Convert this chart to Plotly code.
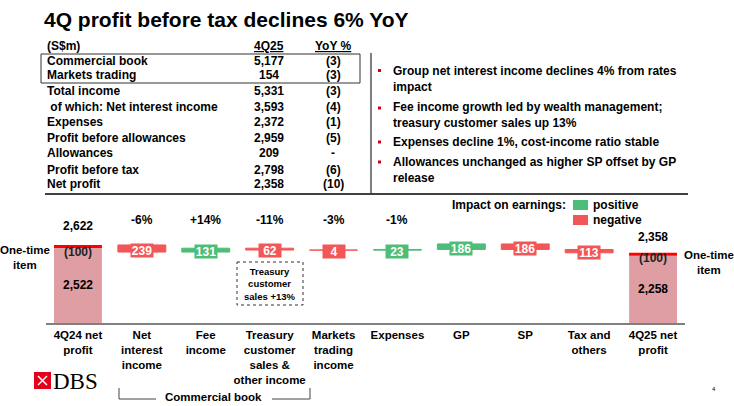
import plotly.graph_objects as go

W, H = 734, 406

# waterfall data (S$m)
categories = ["4Q24 net<br>profit", "Net<br>interest<br>income", "Fee<br>income",
              "Treasury<br>customer<br>sales &<br>other income", "Markets<br>trading<br>income",
              "Expenses", "GP", "SP", "Tax and<br>others", "4Q25 net<br>profit"]
start_profit = 2622
end_profit = 2358
one_time_item = 100
changes = [-239, 131, -62, -4, 23, 186, -186, -113]
yoy_pct = ["-6%", "+14%", "-11%", "-3%", "-1%"]

# table data
table_rows = ["Commercial book", "Markets trading", "Total income", "&nbsp;of which: Net interest income",
              "Expenses", "Profit before allowances", "Allowances", "Profit before tax", "Net profit"]
table_4q25 = ["5,177", "154", "5,331", "3,593", "2,372", "2,959", "209", "2,798", "2,358"]
table_yoy = ["(3)", "(3)", "(3)", "(4)", "(1)", "(5)", "-", "(6)", "(10)"]

bullets = [
    "Group net interest income declines 4% from rates<br>impact",
    "Fee income growth led by wealth management;<br>treasury customer sales up 13%",
    "Expenses decline 1%, cost-income ratio stable",
    "Allowances unchanged as higher SP offset by GP<br>release",
]

GREEN = "#4dbd78"
RED = "#f25757"
BAND = "#ff0000"
PINK = "#df9ea3"
FONT = "Liberation Sans"


def px(x):
    return x / W


def py(y):
    return 1 - y / H


def text_at(x, y, text, size=12, anchor="center", color="black", family=FONT, **kw):
    # paper-positioned text, x/y in pixels from top-left
    return dict(x=px(x), y=py(y), xref="paper", yref="paper", xanchor=anchor, yanchor="middle",
                text=text, showarrow=False, font=dict(size=size, family=family, color=color), **kw)


# running totals for the waterfall
levels = [start_profit]
for c in changes:
    levels.append(levels[-1] + c)
bases = [min(levels[i], levels[i + 1]) for i in range(len(changes))]
heights = [abs(c) for c in changes]
colors = [GREEN if c > 0 else RED for c in changes]

fig = go.Figure()

# start / end bars: underlying profit + one-time item on top
ends_x = [categories[0], categories[-1]]
ends_total = [start_profit, end_profit]
fig.add_trace(go.Bar(x=ends_x, y=[v - one_time_item for v in ends_total], base=[0, 0],
                     marker=dict(color=PINK, line=dict(width=0)), width=0.75))
fig.add_trace(go.Bar(x=ends_x, y=[one_time_item] * 2, base=[v - one_time_item for v in ends_total],
                     marker=dict(color=BAND, line=dict(width=0)), width=0.75))

# changes
fig.add_trace(go.Bar(x=categories[1:-1], y=heights, base=bases,
                     marker=dict(color=colors, line=dict(color=colors, width=1)), width=0.75))

ann = []
shapes = []

for i, c in enumerate(changes):
    ann.append(dict(x=categories[i + 1], y=bases[i] + heights[i] / 2, xref="x", yref="y",
                    xanchor="center", yanchor="middle",
                    text="<b>%d</b>" % abs(c), showarrow=False, bgcolor=colors[i],
                    font=dict(color="white", size=12, family=FONT), width=22, height=13,
                    yshift=-1.5, borderpad=0))

for i, p in enumerate(yoy_pct):
    ann.append(dict(x=categories[i + 1], y=py(220), xref="x", yref="paper", xanchor="center", yanchor="middle",
                    text="<b>%s</b>" % p, showarrow=False, font=dict(size=12, family=FONT, color="black")))

# start/end bar labels
for cat, total, top_shift, mid_shift in [(categories[0], start_profit, 19, -4), (categories[-1], end_profit, 16, -2)]:
    base_val = total - one_time_item
    ann.append(dict(x=cat, y=total, xref="x", yref="y", xanchor="center", yanchor="middle",
                    text="<b>{:,}</b>".format(total), showarrow=False,
                    yshift=top_shift, font=dict(size=12, family=FONT, color="black")))
    ann.append(dict(x=cat, y=base_val, xref="x", yref="y", xanchor="center", yanchor="middle",
                    text="<b>(%d)</b>" % one_time_item,
                    showarrow=False, yshift=mid_shift, font=dict(size=12, family=FONT, color="#222")))
    ann.append(dict(x=cat, y=base_val / 2, xref="x", yref="y", xanchor="center", yanchor="middle",
                    text="<b>{:,}</b>".format(base_val),
                    showarrow=False, font=dict(size=12, family=FONT, color="black")))

ann.append(text_at(-2, 257, "<b>One-time<br>item</b>", size=11.5, anchor="left"))
ann.append(text_at(709, 262, "<b>One-time<br>item</b>", size=11.5))

# treasury note box
shapes.append(dict(type="rect", xref="paper", yref="paper", x0=px(237), x1=px(303), y0=py(262), y1=py(305),
                   line=dict(color="#333", width=1, dash="dot")))
ann.append(text_at(270, 284, "<b>Treasury<br>customer<br>sales +13%</b>", size=9.5))

# commercial book bracket
for (x0, y0, x1, y1) in [(119, 388, 119, 399), (119, 399, 156, 399), (272, 399, 310, 399), (310, 399, 310, 388)]:
    shapes.append(dict(type="line", xref="paper", yref="paper", x0=px(x0), y0=py(y0), x1=px(x1), y1=py(y1),
                       line=dict(color="#444", width=1)))
ann.append(text_at(214, 397, "<b>Commercial book</b>", size=11.5))

# legend
ann.append(text_at(568, 205, "<b>Impact on earnings:</b>", size=12, anchor="right"))
shapes.append(dict(type="rect", xref="paper", yref="paper", x0=px(573), x1=px(588), y0=py(200), y1=py(210),
                   fillcolor=GREEN, line=dict(width=0)))
shapes.append(dict(type="rect", xref="paper", yref="paper", x0=px(573), x1=px(588), y0=py(215), y1=py(225),
                   fillcolor=RED, line=dict(width=0)))
ann.append(text_at(591, 205, "<b>positive</b>", size=12, anchor="left"))
ann.append(text_at(591, 220, "<b>negative</b>", size=12, anchor="left"))

# title
ann.append(text_at(42, 19, "<b>4Q profit before tax declines 6% YoY</b>", size=21, anchor="left"))

# table
row_y = [60.5, 74.5, 91, 107.5, 122, 138, 153, 170, 184]
ann.append(text_at(45, 46, "<b>(S$m)</b>", anchor="left"))
ann.append(text_at(269, 46, "<b><u>4Q25</u></b>"))
ann.append(text_at(333, 46, "<b><u>YoY %</u></b>"))
for label, val, yoy, y in zip(table_rows, table_4q25, table_yoy, row_y):
    ann.append(text_at(45, y, "<b>%s</b>" % label, anchor="left"))
    ann.append(text_at(269, y, "<b>%s</b>" % val))
    ann.append(text_at(333, y, "<b>%s</b>" % yoy))

shapes.append(dict(type="rect", xref="paper", yref="paper", x0=px(41), x1=px(360), y0=py(54), y1=py(83),
                   line=dict(color="#333", width=1)))
shapes.append(dict(type="line", xref="paper", yref="paper", x0=px(45), x1=px(371), y0=py(194), y1=py(194),
                   line=dict(color="black", width=1.5)))
shapes.append(dict(type="line", xref="paper", yref="paper", x0=px(371), x1=px(371), y0=py(53), y1=py(194),
                   line=dict(color="#555", width=1.5)))
shapes.append(dict(type="line", xref="paper", yref="paper", x0=px(371), x1=px(688), y0=py(194), y1=py(194),
                   line=dict(color="black", width=1.5)))

# bullets
bullet_y = [[70.5, 86.5], [108, 122.5], [142], [162, 177]]
for text, ys in zip(bullets, bullet_y):
    shapes.append(dict(type="rect", xref="paper", yref="paper", x0=px(378), x1=px(381),
                       y0=py(ys[0] - 1.5), y1=py(ys[0] + 1.5), fillcolor="#d0021b", line=dict(width=0)))
    ann.append(text_at(391, sum(ys) / len(ys), "<b>%s</b>" % text, anchor="left", align="left"))

# DBS logo
shapes.append(dict(type="rect", xref="paper", yref="paper", x0=px(34), x1=px(51), y0=py(372), y1=py(389),
                   fillcolor="#e3001b", line=dict(width=0)))
shapes.append(dict(type="line", xref="paper", yref="paper", x0=px(38), x1=px(47), y0=py(376), y1=py(385),
                   line=dict(color="white", width=1.5)))
shapes.append(dict(type="line", xref="paper", yref="paper", x0=px(38), x1=px(47), y0=py(385), y1=py(376),
                   line=dict(color="white", width=1.5)))
ann.append(text_at(51, 381, "DBS", size=23, anchor="left", family="Liberation Serif"))
ann.append(text_at(714, 389, "4", size=6))

fig.update_layout(
    width=W, height=H,
    margin=dict(l=0, r=0, t=0, b=0),
    paper_bgcolor="white", plot_bgcolor="white",
    barmode="overlay", showlegend=False,
    annotations=ann, shapes=shapes,
    xaxis=dict(domain=[px(46), px(685)], range=[-0.5, 9.5], type="category",
               categoryorder="array", categoryarray=categories,
               showline=True, linecolor="#808080", linewidth=2, showgrid=False, ticks="",
               tickfont=dict(size=11.5, family=FONT, color="black", weight="bold"), fixedrange=True),
    yaxis=dict(domain=[1 - 323 / H, 1 - 323 / H + 4200 * 0.02976 / H], range=[0, 4200],
               showgrid=False, showticklabels=False, zeroline=False, showline=False, fixedrange=True),
)

# page body has a default 8px margin; drop it so the figure sits at the window's corner
fig.write_html("out.html", config={"displayModeBar": False},
               post_script="document.body.style.margin='0px';")
